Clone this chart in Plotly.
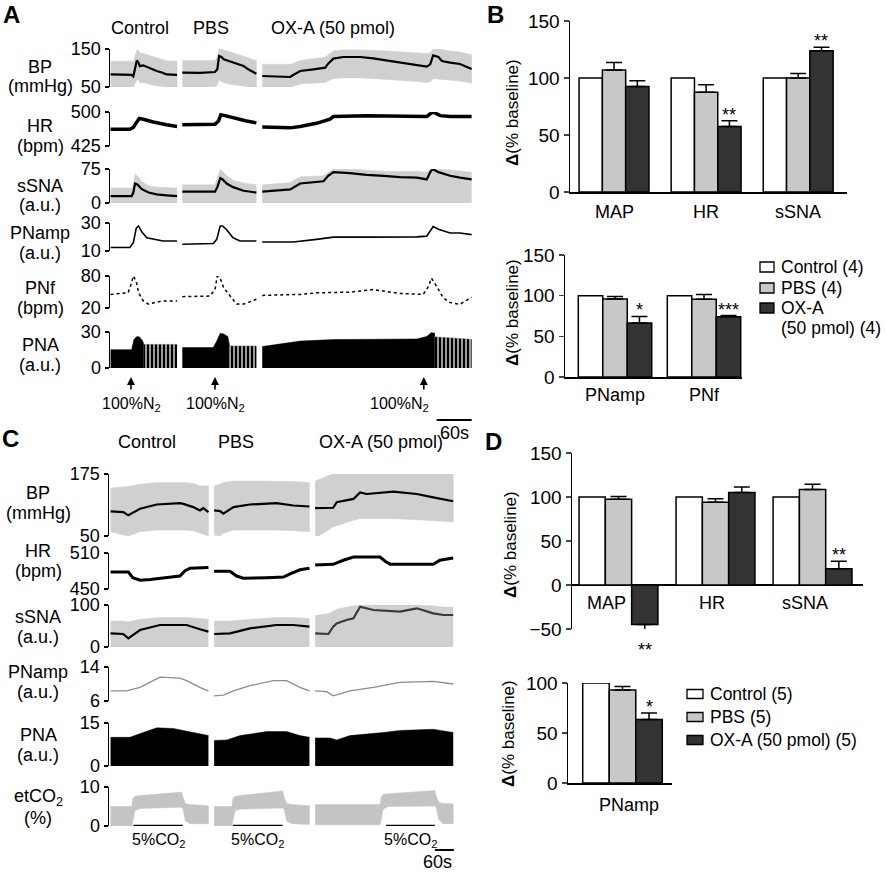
import plotly.graph_objects as go

W, H = 886, 875
FONT = "Liberation Sans, Arial, Helvetica, sans-serif"

# ======================= DATA =======================
SEG_TITLES = ["Control", "PBS", "OX-A (50 pmol)"]

# ---- Panel A (time in s; three segments: Control, PBS, OX-A) ----
A_BP_t = [[1, 37, 40, 43, 46, 49, 51, 57, 63, 71, 80, 89, 97, 115],
          [124, 154, 180, 184, 187, 191, 195, 203, 211, 220, 229, 237, 246, 251],
          [261, 286, 309, 314, 326, 349, 369, 374, 383, 400, 429, 451, 474, 497, 520, 543, 549, 554, 563, 569, 583, 600, 620]]
A_BP_mean = [[83, 82, 78, 101, 120, 114, 105, 107, 103, 98, 92, 88, 83, 82],
             [88, 87, 89.5, 96.5, 131.6, 129, 122.8, 118.4, 114, 109.6, 105.3, 96.5, 89.5, 85.1],
             [79, 78, 76.3, 81.6, 92.1, 96.5, 100.9, 111.4, 124.6, 129, 129, 125.4, 120.2, 114, 107.9, 103.5, 109.6, 133.3, 129, 118.4, 114, 110.5, 97.4]]
A_BP_hi = [[118, 118, 116, 135, 147, 147, 140, 138, 135, 130, 126, 122, 119, 118],
           [120, 120, 120, 130, 150, 150, 147, 143, 140, 136, 132, 127, 122, 120],
           [110, 110, 110, 112, 120, 125, 128, 135, 145, 148, 148, 147, 145, 143, 140, 138, 140, 150, 150, 148, 145, 142, 135]]
A_BP_lo = [[50, 50, 48, 58, 70, 68, 62, 62, 60, 56, 53, 51, 50, 50],
           [50, 50, 50, 55, 68, 66, 62, 58, 56, 54, 52, 50, 50, 50],
           [50, 50, 50, 52, 58, 60, 62, 66, 72, 74, 74, 72, 70, 68, 65, 62, 64, 72, 72, 70, 68, 66, 60]]

A_HR_t = [[1, 34, 40, 46, 50, 57, 74, 97, 115],
          [124, 180, 186, 190, 197, 211, 234, 251],
          [261, 309, 326, 354, 377, 383, 440, 497, 543, 549, 554, 566, 583, 620]]
A_HR_v = [[462, 462, 466, 480, 486, 484, 478, 472, 468],
          [472, 473, 480, 494, 492, 487, 480, 476],
          [467, 465, 468, 475, 484, 490, 492, 490, 490, 496, 500, 492, 490, 490]]

A_sSNA_t = [[1, 37, 40, 43, 47, 54, 66, 80, 97, 115],
            [124, 180, 184, 189, 193, 200, 211, 229, 251],
            [261, 286, 309, 326, 366, 374, 383, 411, 440, 469, 497, 526, 543, 549, 553, 563, 583, 600, 620]]
A_sSNA_mean = [[15, 15, 23, 43, 41, 31, 23, 19, 17, 15],
               [25, 25, 35, 55, 52, 43, 35, 27, 23],
               [25, 27, 30, 43, 48, 60, 68, 66, 62, 60, 57, 56, 52, 68, 75, 68, 60, 56, 52]]
A_sSNA_hi = [[33, 33, 40, 64, 60, 48, 38, 35, 34, 33],
             [40, 40, 55, 75, 70, 60, 50, 44, 40],
             [40, 42, 45, 58, 60, 68, 75, 75, 72, 70, 70, 70, 68, 75, 75, 75, 73, 70, 68]]

A_PNamp_t = [[1, 34, 40, 45, 49, 54, 63, 74, 91, 115],
             [124, 177, 183, 189, 193, 200, 211, 223, 251],
             [261, 314, 354, 383, 440, 497, 526, 543, 554, 563, 583, 600, 620]]
A_PNamp_v = [[12.5, 12.5, 16, 26.3, 27.9, 24, 19.4, 18.7, 17.1, 17.1],
             [14.8, 15.3, 18.3, 27.9, 27.9, 25.2, 19.4, 17.1, 17.1],
             [16.4, 16.4, 18.3, 19.9, 19.9, 19.9, 20.1, 20.6, 27.5, 25.6, 22.9, 22.9, 21.7]]

A_PNf_t = [[1, 31, 35, 40, 45, 49, 57, 66, 77, 91, 115],
           [124, 171, 180, 184, 189, 195, 206, 217, 229, 251],
           [261, 326, 354, 411, 451, 497, 537, 546, 551, 560, 571, 583, 600, 620]]
A_PNf_v = [[45.5, 48.5, 60.6, 80, 69.7, 48.5, 33.3, 27.3, 30.3, 33.3, 33.3],
           [41.2, 42.4, 54.5, 80, 75.8, 57.6, 42.4, 27.3, 27.3, 36.4],
           [43.6, 45.5, 48.5, 49.7, 54.5, 47.3, 45.5, 60.6, 75.8, 60.6, 39.4, 30.3, 27, 40]]

A_PNA_t = [[1, 37, 41, 46, 51, 56, 58],
           [124, 177, 183, 189, 195, 202, 205],
           [261, 326, 383, 440, 526, 543, 551, 557]]
A_PNA_v = [[15.3, 15.3, 23.7, 26.3, 25.8, 22.4, 19.7],
           [17.1, 17.1, 22.4, 28.9, 28.4, 26.3, 18.4],
           [17.9, 22.4, 23.7, 23.7, 24.2, 26.3, 29.5, 28.9]]
A_PNA_burst_t = [[58, 115], [205, 251], [557, 620]]
A_PNA_burst_v = [[19.7, 19.7], [18.4, 18.4], [26, 24]]

A_N2_t = [36, 180, 538]
A_SCALE_t = [560, 620]

# ---- Panel C ----
C_BP_t = [[5, 45, 61, 98, 151, 224, 235, 266, 287, 298, 314],
          [332, 351, 361, 393, 445, 529, 582, 633],
          [651, 708, 719, 772, 793, 814, 898, 972, 1024, 1087]]
C_BP_mean = [[99.6, 98.3, 91.7, 104.9, 113.5, 116.1, 114.8, 108.2, 101.6, 106.2, 98.3],
             [101.6, 100.3, 95, 108.2, 113.5, 116.1, 111.5, 109.5],
             [106.2, 106.9, 118.1, 124.7, 137.9, 134.7, 139.3, 134.7, 128, 120.1]]
C_BP_hi = [[146.6, 147.9, 149.9, 154.5, 157.8, 157.8, 157.8, 155.8, 151.2, 151.2, 151.2],
           [151.2, 154.5, 157.8, 161.1, 161.1, 161.1, 159.8, 157.8],
           [161, 174, 178, 184, 184, 184, 184, 182, 181, 176]]
C_BP_lo = [[58.6, 52, 50, 58.6, 61.9, 61.9, 61.9, 60.6, 55.3, 54, 50],
           [52, 50, 55.3, 61.9, 61.9, 61.9, 60.6, 58.6],
           [45, 68.5, 71.8, 81.7, 85, 85, 85, 83, 81.7, 78.4]]

C_HR_t = [[5, 61, 75, 98, 130, 182, 224, 240, 256, 314],
          [332, 382, 403, 424, 498, 551, 572, 603, 633],
          [651, 708, 740, 772, 856, 872, 888, 1024, 1045, 1087]]
C_HR_v = [[478.4, 478.4, 468.9, 464.7, 465.8, 468.9, 471.6, 480.5, 484.7, 485.8],
          [479.5, 479.5, 471.6, 467.9, 468.9, 470, 475.3, 482.1, 484.7],
          [490, 491.1, 497.9, 503.2, 503.2, 496.3, 491.1, 491.1, 497.9, 501.6]]

C_sSNA_t = [[5, 45, 61, 98, 161, 245, 287, 314],
            [332, 382, 445, 529, 582, 633],
            [651, 693, 708, 719, 750, 772, 793, 835, 919, 972, 1024, 1056, 1087]]
C_sSNA_mean = [[32.5, 31, 20.6, 40.5, 52.4, 52.4, 42.1, 36.5],
               [31, 32.5, 44.4, 52.4, 52.4, 48.4],
               [32.5, 31, 48.4, 56.3, 64.3, 68.3, 96, 88.1, 84.1, 92.1, 80.2, 76.2, 76.2]]
C_sSNA_hi = [[62, 62, 60, 66, 70, 70, 68, 66],
             [62, 62, 66, 70, 70, 68],
             [75, 80, 85, 90, 95, 98, 100, 100, 100, 100, 98, 95, 95]]

C_PNamp_t = [[5, 56, 98, 140, 161, 224, 245, 287, 314],
             [332, 361, 393, 445, 519, 561, 603, 633],
             [651, 687, 708, 761, 835, 919, 1024, 1087]]
C_PNamp_v = [[8.4, 8.4, 9.2, 10.8, 11.6, 11.4, 10.8, 9.2, 8.4],
             [7.2, 7.4, 8.4, 9.6, 10.8, 10.8, 9.2, 8.4],
             [8.4, 8.2, 7.2, 8.4, 9.2, 10.4, 10.6, 10]]

C_PNA_t = [[5, 66, 108, 151, 203, 245, 314],
           [332, 372, 414, 498, 561, 603, 633],
           [651, 698, 719, 761, 866, 919, 1024, 1087]]
C_PNA_v = [[10, 10, 11.7, 13.3, 13.1, 12.2, 10.6],
           [8.9, 9.1, 10.6, 12, 12, 10.6, 10],
           [9.8, 9.8, 9.1, 10.6, 11.7, 12.4, 12.8, 11.7]]

C_CO2_t = [[5, 72, 75, 82, 98, 229, 234, 241, 256, 314],
           [332, 388, 391, 398, 414, 549, 553, 561, 577, 633],
           [651, 856, 859, 866, 882, 1029, 1033, 1041, 1055, 1087]]
C_CO2_hi = [[5, 5, 7, 7.6, 7.8, 8.7, 7.4, 5.8, 5.5, 5.2],
            [5, 5, 7, 7.6, 7.8, 9, 7.4, 5.8, 5.5, 5.2],
            [5.5, 5.5, 7.4, 8.1, 8.3, 9.1, 7.8, 6.1, 5.8, 5.7]]
C_CO2_lo = [[0, 0, 1.3, 3.9, 4.5, 4.8, 4.3, 1.3, 0.6, 0.6],
            [0, 0, 1.3, 3.9, 4.3, 4.6, 4.3, 1.3, 0.6, 0.4],
            [0.3, 0.3, 1.7, 4.3, 5, 5.1, 4.8, 1.7, 0.6, 0.6]]
C_CO2_ON = [[77, 233], [391, 548], [875, 1029]]
C_SCALE_t = [1029, 1089]

# ---- Bar charts (% baseline) ----
B1_cats = ["MAP", "HR", "sSNA"]
B1_ctrl = [100, 100, 100]
B1_pbs = [107, 87.5, 100]
B1_pbs_err = [6.5, 6.5, 4]
B1_oxa = [92.5, 57.5, 124]
B1_oxa_err = [5, 5, 3]
B1_sig = ["", "**", "**"]

B2_cats = ["PNamp", "PNf"]
B2_ctrl = [100, 100]
B2_pbs = [96, 95.5]
B2_pbs_err = [3, 6]
B2_oxa = [66.5, 74]
B2_oxa_err = [8, 1.5]
B2_sig = ["*", "***"]

D1_cats = ["MAP", "HR", "sSNA"]
D1_ctrl = [100, 100, 100]
D1_pbs = [97.5, 94, 108.5]
D1_pbs_err = [3, 4, 6]
D1_oxa = [-45, 105, 18.5]
D1_oxa_err = [9, 6.5, 8.5]
D1_sig = ["**", "", "**"]

D2_cats = ["PNamp"]
D2_ctrl = [100]
D2_pbs = [93]
D2_pbs_err = [3.5]
D2_oxa = [63.5]
D2_oxa_err = [6.5]
D2_sig = ["*"]

B_names = ["Control (4)", "PBS (4)", "OX-A (50 pmol) (4)"]
D_names = ["Control (5)", "PBS (5)", "OX-A (50 pmol) (5)"]
BAR_COLORS = ["#ffffff", "#c8c8c8", "#333333"]

# ======================= FIGURE =======================
fig = go.Figure()
layout = dict(template="none", width=W, height=H,
              margin=dict(l=0, r=0, t=0, b=0, pad=0, autoexpand=False),
              paper_bgcolor="white", plot_bgcolor="rgba(0,0,0,0)",
              showlegend=False, barmode="overlay", hovermode=False,
              font=dict(family=FONT, size=18, color="black"))
annotations = []
shapes = []


def py(p):
    return 1 - p / H


_n = [0]


def make_axes(x0, x1, y_top, y_bot, xrange, yrange):
    _n[0] += 1
    k = _n[0]
    s = "" if k == 1 else str(k)
    layout["xaxis" + s] = dict(domain=[x0 / W, x1 / W], range=xrange, anchor="y" + s,
                               visible=False, fixedrange=True, automargin=False,
                               showgrid=False, zeroline=False)
    layout["yaxis" + s] = dict(domain=[py(y_bot), py(y_top)], range=yrange, anchor="x" + s,
                               fixedrange=True, showgrid=False, zeroline=False, automargin=False)
    return "x" + s, "y" + s, s


def bracket(s, lo, hi):
    layout["yaxis" + s].update(showline=True, linecolor="black", linewidth=1.5,
                               ticks="outside", ticklen=4, tickwidth=1.5, tickcolor="black",
                               tickvals=[lo, hi], ticktext=[str(lo), str(hi)],
                               tickfont=dict(size=18))


def band(xa, ya, t, hi, lo, color):
    fig.add_trace(go.Scatter(x=list(t) + list(t)[::-1], y=list(hi) + list(lo)[::-1],
                             mode="lines", fill="toself", fillcolor=color,
                             line=dict(width=0.5, color=color), xaxis=xa, yaxis=ya))


def area(xa, ya, t, v, color, pattern=None):
    kw = {}
    if pattern:
        kw["fillpattern"] = pattern
    fig.add_trace(go.Scatter(x=t, y=v, mode="lines", fill="tozeroy", fillcolor=color,
                             line=dict(width=0.5, color=color), xaxis=xa, yaxis=ya, **kw))


def line(xa, ya, t, v, color="black", width=2, dash="solid"):
    fig.add_trace(go.Scatter(x=t, y=v, mode="lines", line=dict(color=color, width=width, dash=dash),
                             xaxis=xa, yaxis=ya))


def text(x, y, s, size=18, xanchor="center", yanchor="middle", bold=False, angle=0,
         xref="paper", yref="paper", xshift=0, yshift=0):
    if xref == "paper":
        x = x / W
    if yref == "paper":
        y = py(y)
    annotations.append(dict(x=x, y=y, xref=xref, yref=yref, text=("<b>%s</b>" % s) if bold else s,
                            showarrow=False, xanchor=xanchor, yanchor=yanchor, textangle=angle,
                            font=dict(size=size, family=FONT, color="black"),
                            xshift=xshift, yshift=yshift))


GREY = "#d0d0d0"

# ---------------- Panel A ----------------
AX0, AX1, AR = 110, 472, [0, 620.6]
xa, ya, s = make_axes(AX0, AX1, 49, 87, AR, [50, 150]); bracket(s, 50, 150)
for i in range(3):
    band(xa, ya, A_BP_t[i], A_BP_hi[i], A_BP_lo[i], GREY)
    line(xa, ya, A_BP_t[i], A_BP_mean[i], width=2.2)

xa, ya, s = make_axes(AX0, AX1, 112, 146, AR, [425, 500]); bracket(s, 425, 500)
for i in range(3):
    line(xa, ya, A_HR_t[i], A_HR_v[i], width=3.5)

xa, ya, s = make_axes(AX0, AX1, 169, 203, AR, [0, 75]); bracket(s, 0, 75)
for i in range(3):
    area(xa, ya, A_sSNA_t[i], A_sSNA_hi[i], GREY)
    line(xa, ya, A_sSNA_t[i], A_sSNA_mean[i], width=2.2)

xa, ya, s = make_axes(AX0, AX1, 223, 251, AR, [10, 30]); bracket(s, 10, 30)
for i in range(3):
    line(xa, ya, A_PNamp_t[i], A_PNamp_v[i], width=1.6)

xa, ya, s = make_axes(AX0, AX1, 276, 308, AR, [20, 80]); bracket(s, 20, 80)
for i in range(3):
    line(xa, ya, A_PNf_t[i], A_PNf_v[i], width=1.5, dash="dot")

xa, ya, s = make_axes(AX0, AX1, 332, 368, AR, [0, 30]); bracket(s, 0, 30)
xa_pna = xa
for i in range(3):
    area(xa, ya, A_PNA_t[i], A_PNA_v[i], "black")
    area(xa, ya, A_PNA_burst_t[i], A_PNA_burst_v[i], "#8a8a8a",
         pattern=dict(shape="|", fgcolor="black", bgcolor="#9c9c9c", size=4, solidity=0.5))

# N2 arrows and labels
for k, t in enumerate(A_N2_t):
    annotations.append(dict(x=t, y=py(377), xref=xa_pna, yref="paper", text="", showarrow=True,
                            ax=0, ay=14, arrowhead=2, arrowsize=1, arrowwidth=1.6, arrowcolor="black"))
    text(t, 404, "100%N<sub>2</sub>", size=16, xref=xa_pna, xshift=(-24 if k == 2 else 0))
shapes.append(dict(type="line", xref=xa_pna, yref="paper", x0=A_SCALE_t[0], x1=A_SCALE_t[1],
                   y0=py(420), y1=py(420), line=dict(color="black", width=2)))
text(sum(A_SCALE_t) / 2, 433, "60s", size=18, xref=xa_pna)

# titles & row labels A
for s_, xc in zip(SEG_TITLES, [140, 211, 333]):
    text(xc, 28, s_, size=18)
for lab, yy in [("BP", 67), ("(mmHg)", 86), ("HR", 126), ("(bpm)", 146), ("sSNA", 186),
                ("(a.u.)", 205), ("PNamp", 233), ("(a.u.)", 253), ("PNf", 288), ("(bpm)", 308),
                ("PNA", 345), ("(a.u.)", 365)]:
    text(40, yy, lab, size=18)

# ---------------- Panel C ----------------
CX0, CX1, CR = 109, 454, [0, 1089.5]
xa, ya, s = make_axes(CX0, CX1, 474, 536, CR, [50, 175]); bracket(s, 50, 175)
for i in range(3):
    band(xa, ya, C_BP_t[i], C_BP_hi[i], C_BP_lo[i], GREY)
    line(xa, ya, C_BP_t[i], C_BP_mean[i], width=2.2)

xa, ya, s = make_axes(CX0, CX1, 553, 589, CR, [450, 510]); bracket(s, 450, 510)
for i in range(3):
    line(xa, ya, C_HR_t[i], C_HR_v[i], width=3)

xa, ya, s = make_axes(CX0, CX1, 605, 647, CR, [0, 100]); bracket(s, 0, 100)
for i in range(3):
    area(xa, ya, C_sSNA_t[i], C_sSNA_hi[i], GREY)
    line(xa, ya, C_sSNA_t[i], C_sSNA_mean[i], color=("#3a3a3a" if i == 2 else "black"), width=2.2)

xa, ya, s = make_axes(CX0, CX1, 667, 701, CR, [6, 14]); bracket(s, 6, 14)
for i in range(3):
    line(xa, ya, C_PNamp_t[i], C_PNamp_v[i], color="#8c8c8c", width=1.3)

xa, ya, s = make_axes(CX0, CX1, 723, 766, CR, [0, 15]); bracket(s, 0, 15)
for i in range(3):
    area(xa, ya, C_PNA_t[i], C_PNA_v[i], "black")

xa, ya, s = make_axes(CX0, CX1, 787, 826, CR, [0, 10]); bracket(s, 0, 10)
xa_co2, ya_co2 = xa, ya
for i in range(3):
    band(xa, ya, C_CO2_t[i], C_CO2_hi[i], C_CO2_lo[i], "#c4c4c4")
for on in C_CO2_ON:
    shapes.append(dict(type="line", xref=xa_co2, yref=ya_co2, x0=on[0], x1=on[1], y0=0, y1=0,
                       line=dict(color="black", width=2.5)))
    text((on[0] + on[1]) / 2, 840, "5%CO<sub>2</sub>", size=16, xref=xa_co2)
shapes.append(dict(type="line", xref=xa_co2, yref="paper", x0=C_SCALE_t[0], x1=C_SCALE_t[1],
                   y0=py(850), y1=py(850), line=dict(color="black", width=2)))
text(C_SCALE_t[1], 862, "60s", size=18, xref=xa_co2, xanchor="right")

for s_, xc in zip(SEG_TITLES, [147, 236, 381]):
    text(xc, 442, s_, size=18)
for lab, yy in [("BP", 493), ("(mmHg)", 513), ("HR", 551), ("(bpm)", 571), ("sSNA", 617),
                ("(a.u.)", 637), ("PNamp", 672), ("(a.u.)", 692), ("PNA", 735), ("(a.u.)", 755),
                ("etCO<sub>2</sub>", 797), ("(%)", 818)]:
    text(38, yy, lab, size=18)

# ---------------- Bar charts ----------------

def bar_chart(box, xrange, yrange, yticks, cats, series, errs, names, w, sig, label_y=None,
              label_shift=None, zero_line=False, below_star_y=None):
    x0, x1, yt, yb = box
    xa, ya, s = make_axes(x0, x1, yt, yb, xrange, yrange)
    layout["yaxis" + s].update(showline=True, linecolor="black", linewidth=1.5, ticks="outside",
                               ticklen=5, tickwidth=1.5, tickvals=yticks,
                               tickfont=dict(size=19))
    if zero_line:
        layout["yaxis" + s].update(zeroline=True, zerolinecolor="black", zerolinewidth=1.5)
    else:
        layout["xaxis" + s].update(visible=True, showline=True, linecolor="black", linewidth=1.5,
                                   ticks="", showticklabels=False)
    for k, (vals, err, name, col) in enumerate(zip(series, errs, names, BAR_COLORS)):
        xs = [i + (k - 1) * w for i in range(len(cats))]
        ey = None
        if err is not None:
            ey = dict(type="data", symmetric=False,
                      array=[e if v >= 0 else 0 for v, e in zip(vals, err)],
                      arrayminus=[0 if v >= 0 else e for v, e in zip(vals, err)],
                      color="black", thickness=1.5, width=8)
        fig.add_trace(go.Bar(x=xs, y=vals, width=w, name=name, error_y=ey,
                             marker=dict(color=col, line=dict(color="black", width=1.5)),
                             xaxis=xa, yaxis=ya))
    vals, err = series[2], errs[2]
    for i, st in enumerate(sig):
        if not st:
            continue
        xs = i + w
        if vals[i] >= 0:
            annotations.append(dict(x=xs, y=vals[i] + err[i], xref=xa, yref=ya, text=st,
                                    showarrow=False, yanchor="bottom", yshift=-6,
                                    font=dict(size=18, family=FONT, color="black")))
        else:
            annotations.append(dict(x=xs, y=py(below_star_y), xref=xa, yref="paper", text=st,
                                    showarrow=False, yanchor="middle",
                                    font=dict(size=18, family=FONT, color="black")))
    shifts = label_shift or [0] * len(cats)
    for i, c in enumerate(cats):
        annotations.append(dict(x=i, y=py(label_y), xref=xa, yref="paper", text=c, showarrow=False,
                                yanchor="middle", xshift=shifts[i],
                                font=dict(size=18, family=FONT, color="black")))
    return xa, ya


bar_chart((570, 847, 21, 192), [-0.478, 2.53], [0, 150], [0, 50, 100, 150], B1_cats,
          [B1_ctrl, B1_pbs, B1_oxa], [None, B1_pbs_err, B1_oxa_err], B_names, 0.253, B1_sig,
          label_y=212)
bar_chart((565, 742, 255, 377), [-0.562, 1.427], [0, 150], [0, 50, 100, 150], B2_cats,
          [B2_ctrl, B2_pbs, B2_oxa], [None, B2_pbs_err, B2_oxa_err], B_names, 0.275, B2_sig,
          label_y=395)
bar_chart((572, 863, 453, 629), [-0.479, 2.52], [-50, 150], [-50, 0, 50, 100, 150],
          D1_cats, [D1_ctrl, D1_pbs, D1_oxa], [None, D1_pbs_err, D1_oxa_err],
          D_names, 0.271, D1_sig, label_y=603, label_shift=[-12, -4, -8], zero_line=True,
          below_star_y=650)
bar_chart((568, 672, 683, 783), [-0.524, 0.476], [0, 100], [0, 50, 100], D2_cats,
          [D2_ctrl, D2_pbs, D2_oxa], [None, D2_pbs_err, D2_oxa_err], D_names, 0.255, D2_sig,
          label_y=805, label_shift=[6])

for xc, yc in [(513, 113), (513, 313), (510, 545), (508, 734)]:
    text(xc, yc, "<b>Δ</b>(% baseline)", size=17, angle=-90)

# legends (keys drawn as outlined boxes + text)
B_leg_rows = [267, 288, 308]
for name, col, yy in zip(["Control (4)", "PBS (4)", "OX-A"], BAR_COLORS, B_leg_rows):
    shapes.append(dict(type="rect", xref="paper", yref="paper", x0=760 / W, x1=774 / W,
                       y0=py(yy + 5), y1=py(yy - 5), fillcolor=col, line=dict(color="black", width=1.3)))
    text(779, yy, name, size=17.5, xanchor="left")
text(779, 328, "(50 pmol) (4)", size=17.5, xanchor="left")

D_leg_rows = [694, 717, 740]
for name, col, yy in zip(D_names, BAR_COLORS, D_leg_rows):
    shapes.append(dict(type="rect", xref="paper", yref="paper", x0=687 / W, x1=703 / W,
                       y0=py(yy + 4.5), y1=py(yy - 4.5), fillcolor=col, line=dict(color="black", width=1.3)))
    text(708, yy, name, size=17.5, xanchor="left")

# panel letters
for L, xx, yy in [("A", 11, 14), ("B", 495, 15), ("C", 10, 439), ("D", 493, 441)]:
    text(xx, yy, L, size=24, bold=True)

layout["annotations"] = annotations
layout["shapes"] = shapes
fig.update_layout(**layout)
fig.update_traces(selector=dict(type="scatter"), showlegend=False, hoverinfo="skip")
fig.write_html("out.html", config={"displayModeBar": False, "staticPlot": True},
               post_script="document.body.style.margin='0px';")
